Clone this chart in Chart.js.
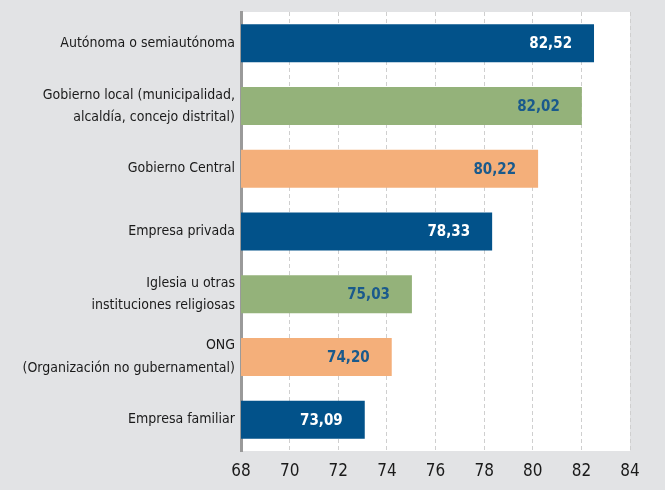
<!DOCTYPE html>
<html>
<head>
<meta charset="utf-8">
<script src="https://cdn.jsdelivr.net/npm/chart.js@4"></script>
<style>
html,body{margin:0;padding:0;background:#e2e3e5;}
#wrap{width:665px;height:490px;}
</style>
</head>
<body>
<div id="wrap"><canvas id="c" width="665" height="490"></canvas></div>
<script>
const categories = [
  ["Autónoma o semiautónoma"],
  ["Gobierno local (municipalidad,", "alcaldía, concejo distrital)"],
  ["Gobierno Central"],
  ["Empresa privada"],
  ["Iglesia u otras", "instituciones religiosas"],
  ["ONG", "(Organización no gubernamental)"],
  ["Empresa familiar"]
];
const values = [82.52, 82.02, 80.22, 78.33, 75.03, 74.20, 73.09];
const barColors = ["#02528a", "#94b27a", "#f4af7a", "#02528a", "#94b27a", "#f4af7a", "#02528a"];
const labelColors = ["#ffffff", "#1a5a8c", "#1a5a8c", "#ffffff", "#1a5a8c", "#1a5a8c", "#ffffff"];
const xMin = 68, xMax = 84, xStep = 2;

const FONT = "'DejaVu Sans Condensed', 'Liberation Sans Narrow', sans-serif";

const bgPlugin = {
  id: 'bg',
  beforeDraw(chart) {
    const {ctx, chartArea: a} = chart;
    ctx.save();
    ctx.fillStyle = '#e2e3e5';
    ctx.fillRect(0, 0, chart.width, chart.height);
    ctx.fillStyle = '#ffffff';
    ctx.fillRect(a.left, a.top, a.right - a.left, a.bottom - a.top);
    ctx.restore();
  }
};

const labelPlugin = {
  id: 'vals',
  afterDatasetsDraw(chart) {
    const ctx = chart.ctx;
    const meta = chart.getDatasetMeta(0);
    ctx.save();
    ctx.font = "bold 15px " + FONT;
    ctx.textAlign = 'right';
    ctx.textBaseline = 'middle';
    meta.data.forEach((bar, i) => {
      ctx.fillStyle = labelColors[i];
      ctx.fillText(values[i].toFixed(2).replace('.', ','), bar.x - 22, bar.y + 1);
    });
    ctx.restore();
  }
};

new Chart(document.getElementById('c'), {
  type: 'bar',
  data: {
    labels: categories,
    datasets: [{
      data: values,
      backgroundColor: barColors,
      borderWidth: 0,
      barPercentage: 0.606,
      categoryPercentage: 1
    }]
  },
  options: {
    indexAxis: 'y',
    responsive: false,
    animation: false,
    layout: { padding: { top: 12, right: 35, left: 0, bottom: 0 } },
    plugins: { legend: { display: false }, tooltip: { enabled: false } },
    scales: {
      x: {
        min: xMin, max: xMax,
        ticks: { stepSize: xStep, color: '#1a1a1a', font: { family: FONT, size: 17 }, padding: 10,
                 callback: v => String(v) },
        grid: { color: '#cfcfcf', lineWidth: 1, drawTicks: false },
        border: { display: false, dash: [4, 3] },
        afterFit(s) { s.height = 39; s.paddingLeft = 0; s.paddingRight = 0; }
      },
      y: {
        ticks: { color: '#1a1a1a', font: { family: FONT, size: 14, lineHeight: 1.6 }, padding: 6 },
        grid: { display: false, drawTicks: false },
        border: { display: true, color: '#9a9a9a', width: 3 },
        afterFit(s) { s.width = 241; s.paddingTop = 0; s.paddingBottom = 0; }
      }
    }
  },
  plugins: [bgPlugin, labelPlugin]
});
</script>
</body>
</html>
